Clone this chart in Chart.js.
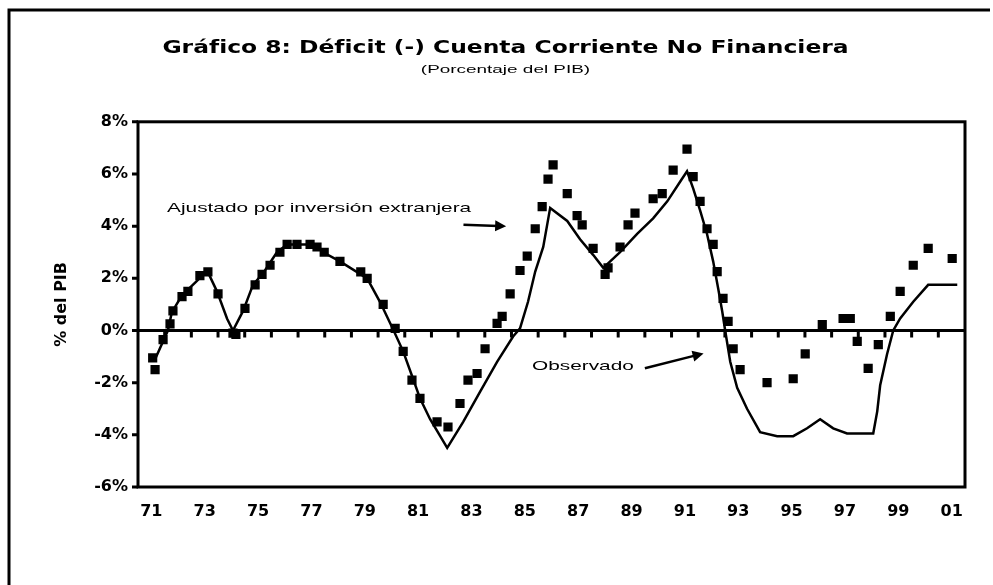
<!DOCTYPE html>
<html lang="es">
<head>
<meta charset="utf-8">
<title>Gráfico 8: Déficit (-) Cuenta Corriente No Financiera</title>
<script src="https://cdn.jsdelivr.net/npm/chart.js@4.4.1/dist/chart.umd.min.js"></script>
<style>
  html, body { margin: 0; padding: 0; background: #fff; }
  #wrap { width: 993px; height: 585px; }
</style>
</head>
<body>
<div id="wrap"><canvas id="cc" width="993" height="585"></canvas></div>
<script>
// Observado: vertices of the solid line (% del PIB)
const obsYears = [1971.64, 1972.12, 1972.27, 1972.65, 1973.21, 1973.59, 1973.96, 1974.34, 1974.56, 1974.94,
  1975.31, 1975.69, 1976.21, 1976.59, 1977.71, 1977.94, 1978.57, 1979.59, 1980.07, 1980.56,
  1980.94, 1981.31, 1981.57, 1981.95, 1982.59, 1983.19, 1983.82, 1984.46, 1985.06, 1985.32,
  1985.62, 1985.89, 1986.19, 1986.45, 1987.09, 1987.57, 1988.06, 1988.44, 1989.07, 1989.71,
  1990.31, 1990.84, 1991.32, 1991.58, 1991.81, 1992.07, 1992.33, 1992.56, 1992.75, 1992.9,
  1993.01, 1993.2, 1993.46, 1993.83, 1994.32, 1994.96, 1995.56, 1996.08, 1996.57, 1997.06,
  1997.58, 1998.56, 1998.71, 1998.82, 1999.08, 1999.31, 1999.57, 2000.06, 2000.62, 2001.71];
const obsValues = [-1.1, 0.0, 0.7, 1.35, 1.9, 2.3, 1.5, 0.45, 0.0, 0.75,
  1.75, 2.2, 3.0, 3.3, 3.3, 3.0, 2.65, 2.0, 1.1, 0.05,
  -0.8, -1.85, -2.6, -3.4, -4.5, -3.5, -2.35, -1.2, -0.23, 0.08,
  1.1, 2.26, 3.2, 4.7, 4.2, 3.5, 2.9, 2.4, 3.0, 3.7,
  4.3, 4.95, 5.7, 6.1, 5.45, 4.6, 3.7, 2.65, 1.6, 0.73,
  0.0, -1.2, -2.2, -3.0, -3.9, -4.05, -4.05, -3.75, -3.4, -3.75,
  -3.95, -3.95, -3.1, -2.1, -0.9, 0.0, 0.46, 1.1, 1.75, 1.75];

// Ajustado por inversión extranjera: square markers
const adjYears = [1971.55, 1971.64, 1971.94, 1972.2, 1972.31, 1972.65, 1972.87, 1973.32, 1973.62, 1974.0,
  1974.56, 1974.67, 1975.01, 1975.39, 1975.65, 1975.95, 1976.32, 1976.59, 1976.96, 1977.45,
  1977.71, 1977.98, 1978.57, 1979.35, 1979.59, 1980.19, 1980.64, 1980.94, 1981.27, 1981.57,
  1982.21, 1982.62, 1983.07, 1983.37, 1983.71, 1984.01, 1984.46, 1984.65, 1984.95, 1985.32,
  1985.59, 1985.89, 1986.15, 1986.37, 1986.56, 1987.09, 1987.46, 1987.65, 1988.06, 1988.51,
  1988.62, 1989.07, 1989.37, 1989.63, 1990.31, 1990.65, 1991.06, 1991.58, 1991.81, 1992.07,
  1992.33, 1992.56, 1992.71, 1992.93, 1993.12, 1993.31, 1993.57, 1994.58, 1995.56, 1996.01,
  1996.65, 1997.43, 1997.7, 1997.96, 1998.37, 1998.75, 1999.2, 1999.57, 2000.06, 2000.62, 2001.52];
const adjValues = [-1.05, -1.5, -0.35, 0.25, 0.75, 1.3, 1.5, 2.1, 2.25, 1.4,
  -0.1, -0.15, 0.85, 1.75, 2.15, 2.5, 3.0, 3.3, 3.3, 3.3,
  3.2, 3.0, 2.65, 2.25, 2.0, 1.0, 0.08, -0.8, -1.9, -2.6,
  -3.5, -3.7, -2.8, -1.9, -1.65, -0.7, 0.27, 0.54, 1.4, 2.3,
  2.85, 3.9, 4.75, 5.8, 6.35, 5.25, 4.4, 4.05, 3.15, 2.15,
  2.4, 3.2, 4.05, 4.5, 5.05, 5.25, 6.15, 6.95, 5.9, 4.95,
  3.9, 3.3, 2.26, 1.23, 0.35, -0.7, -1.5, -2.0, -1.85, -0.9,
  0.23, 0.46, 0.46, -0.42, -1.45, -0.54, 0.54, 1.5, 2.5, 3.15, 2.76];

// axes
const xLabelYears = [1971, 1973, 1975, 1977, 1979, 1981, 1983, 1985, 1987, 1989, 1991, 1993, 1995, 1997, 1999, 2001];
const xLabels = ['71', '73', '75', '77', '79', '81', '83', '85', '87', '89', '91', '93', '95', '97', '99', '01'];
const yTickLabels = ['-6%', '-4%', '-2%', '0%', '2%', '4%', '6%', '8%'];

const titleText = 'Gráfico 8: Déficit (-) Cuenta Corriente No Financiera';
const subtitleText = '(Porcentaje del PIB)';

// the scanned text is wide, so stretch it sideways
function stretched(ctx, text, x, y, sx) {
  ctx.save();
  ctx.translate(x, y);
  ctx.scale(sx, 1);
  ctx.fillText(text, 0, 0);
  ctx.restore();
}

function arrow(ctx, x1, y1, x2, y2) {
  const ang = Math.atan2(y2 - y1, x2 - x1);
  ctx.beginPath();
  ctx.moveTo(x1, y1);
  ctx.lineTo(x2 - 8 * Math.cos(ang), y2 - 8 * Math.sin(ang));
  ctx.stroke();
  ctx.save();
  ctx.translate(x2, y2);
  ctx.rotate(ang);
  ctx.beginPath();
  ctx.moveTo(0, 0);
  ctx.lineTo(-11, -5.5);
  ctx.lineTo(-11, 5.5);
  ctx.closePath();
  ctx.fill();
  ctx.restore();
}

const framePlugin = {
  id: 'frame',
  beforeDraw(chart) {
    const { ctx, width, height } = chart;
    ctx.save();
    ctx.fillStyle = '#fff';
    ctx.fillRect(0, 0, width, height);
    // outer border of the page (only left and top are in the scan)
    ctx.strokeStyle = '#000';
    ctx.lineWidth = 3;
    ctx.beginPath();
    ctx.moveTo(9, height);
    ctx.lineTo(9, 10);
    ctx.lineTo(width - 3, 10);
    ctx.stroke();
    ctx.restore();

    // widen title and subtitle like the scan, centred on the page
    if (!chart._stretched) {
      chart.boxes.forEach(box => {
        if (!box.options || (box.options.text !== titleText && box.options.text !== subtitleText)) return;
        const sx = box.options.text === titleText ? 1.3 : 1.72;
        const orig = box.draw;
        box.draw = function (...args) {
          const c = this.ctx;
          const cx = (this.left + this.right) / 2;
          c.save();
          c.translate(chart.width / 2 + 9, 0);
          c.scale(sx, 1);
          c.translate(-cx, 0);
          orig.apply(this, args);
          c.restore();
        };
      });
      chart._stretched = true;
    }
  },
  beforeDatasetsDraw(chart) {
    const { ctx, chartArea: a, scales: { x, y } } = chart;
    const y0 = y.getPixelForValue(0);
    ctx.save();
    ctx.strokeStyle = '#000';
    ctx.lineWidth = 3;
    ctx.strokeRect(a.left, a.top, a.right - a.left, a.bottom - a.top);
    ctx.beginPath();
    ctx.moveTo(a.left, y0);
    ctx.lineTo(a.right, y0);
    y.ticks.forEach(t => {
      const py = y.getPixelForValue(t.value);
      ctx.moveTo(a.left - 6, py);
      ctx.lineTo(a.left, py);
    });
    // yearly tick marks hanging under the zero line
    for (let yr = x.min + 1; yr < x.max; yr++) {
      const px = x.getPixelForValue(yr);
      ctx.moveTo(px, y0);
      ctx.lineTo(px, y0 + 7);
    }
    ctx.stroke();
    ctx.restore();
  },
  afterDraw(chart) {
    const { ctx, scales: { x, y } } = chart;
    ctx.save();
    ctx.fillStyle = '#000';
    ctx.strokeStyle = '#000';
    ctx.lineWidth = 2.5;
    ctx.font = '13px "Liberation Sans", Arial, sans-serif';
    ctx.textBaseline = 'middle';
    ctx.textAlign = 'left';
    stretched(ctx, 'Ajustado por inversión extranjera', x.getPixelForValue(1972.09), y.getPixelForValue(4.68), 1.6);
    arrow(ctx, x.getPixelForValue(1983.2), y.getPixelForValue(4.05), x.getPixelForValue(1984.8), y.getPixelForValue(4.0));
    stretched(ctx, 'Observado', x.getPixelForValue(1985.77), y.getPixelForValue(-1.38), 1.6);
    arrow(ctx, x.getPixelForValue(1990.0), y.getPixelForValue(-1.45), x.getPixelForValue(1992.2), y.getPixelForValue(-0.88));
    ctx.restore();
  }
};

const tickFont = { family: 'DejaVu Sans', size: 16, weight: 'bold' };

new Chart(document.getElementById('cc'), {
  type: 'line',
  data: {
    datasets: [
      {
        label: 'Ajustado por inversión extranjera',
        data: adjYears.map((yr, i) => ({ x: yr, y: adjValues[i] })),
        showLine: false,
        pointStyle: 'rect',
        pointRadius: 6.5,
        backgroundColor: '#000',
        borderColor: '#000',
        borderWidth: 0,
        order: 0
      },
      {
        label: 'Observado',
        data: obsYears.map((yr, i) => ({ x: yr, y: obsValues[i] })),
        borderColor: '#000',
        borderWidth: 2.5,
        pointRadius: 0,
        tension: 0,
        fill: false,
        order: 1
      }
    ]
  },
  options: {
    responsive: false,
    animation: false,
    devicePixelRatio: 1,
    events: [],
    layout: { padding: { top: 0, left: 0, right: 28, bottom: 0 } },
    plugins: {
      legend: { display: false },
      tooltip: { enabled: false },
      title: {
        display: true,
        text: titleText,
        color: '#000',
        font: { family: 'DejaVu Sans', size: 18, weight: 'bold', lineHeight: 1.2 },
        padding: { top: 38, bottom: 0 }
      },
      subtitle: {
        display: true,
        text: subtitleText,
        color: '#000',
        font: { family: 'Liberation Sans', size: 11, lineHeight: 1.2 },
        padding: { top: 4, bottom: 45 }
      }
    },
    scales: {
      x: {
        type: 'linear',
        min: 1971,
        max: 2002,
        afterBuildTicks(s) { s.ticks = xLabelYears.map(yr => ({ value: yr + 0.5 })); },
        afterFit(s) { s.height = 98; },
        ticks: {
          autoSkip: false,
          maxRotation: 0,
          color: '#000',
          padding: 15,
          font: tickFont,
          callback: (v, i) => xLabels[i]
        },
        grid: { display: false, drawTicks: false },
        border: { display: false }
      },
      y: {
        min: -6,
        max: 8,
        afterFit(s) { s.width = 138; },
        ticks: {
          stepSize: 2,
          color: '#000',
          padding: 10,
          font: tickFont,
          callback: (v, i) => yTickLabels[i]
        },
        grid: { display: false, drawTicks: false },
        border: { display: false },
        title: {
          display: true,
          text: '% del PIB',
          color: '#000',
          font: tickFont,
          padding: { top: 52, bottom: 0 }
        }
      }
    }
  },
  plugins: [framePlugin]
});
</script>
</body>
</html>
